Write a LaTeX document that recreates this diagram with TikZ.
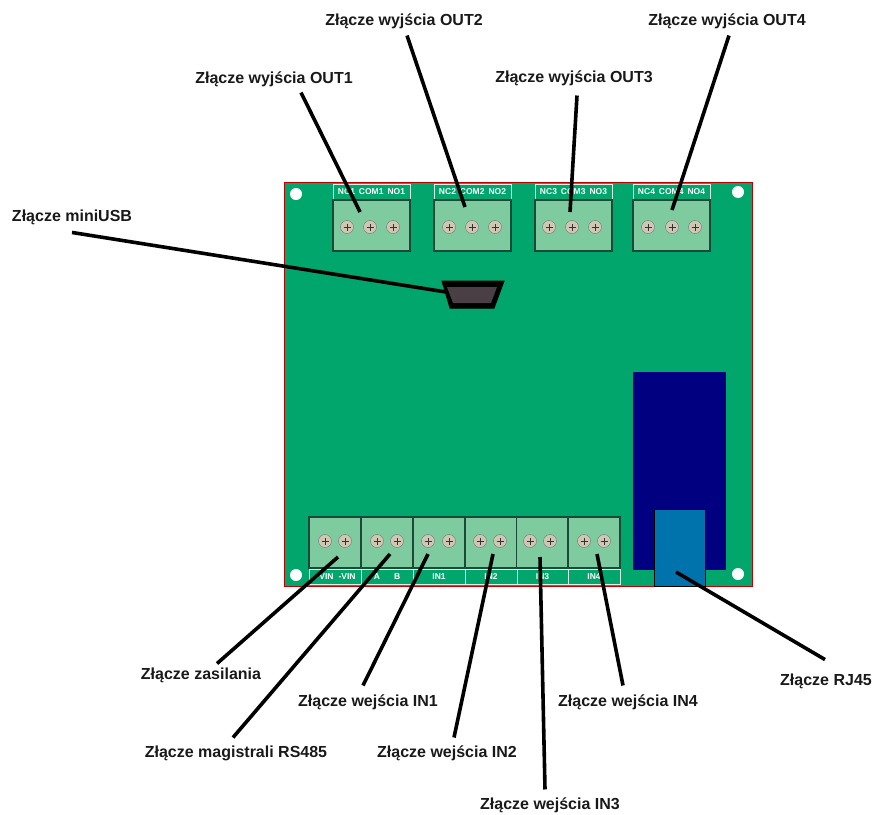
\documentclass[tikz,border=0pt]{standalone}
\usepackage{fontspec}
\setmainfont{Liberation Sans}
\usepackage{xcolor}
\definecolor{pcbgreen}{HTML}{00A66C}
\definecolor{blockgreen}{HTML}{7DCB9F}
\definecolor{blockedge}{HTML}{1C4A36}
\definecolor{screwfill}{HTML}{CFC6B4}
\definecolor{usbgrey}{HTML}{4A3F45}
\definecolor{relaynavy}{HTML}{000080}
\definecolor{jackblue}{HTML}{0072AC}

\begin{document}
\begin{tikzpicture}[
        x=1pt,y=-1pt,
        every node/.append style={outer sep=0pt}
    ]
    \tikzstyle{callout}=[font=\bfseries\fontsize{16}{18}\selectfont,text=black!90,inner sep=2pt];
    \tikzstyle{lead}=[line width=3.6pt,black];
    \tikzstyle{hole}=[shape=circle,fill=white,inner sep=0pt,minimum size=12pt];
    \tikzstyle{topblock}=[draw=blockedge,line width=1.2pt,fill=blockgreen,inner sep=0pt,minimum width=77pt,minimum height=51pt];
    \tikzstyle{lowblock}=[draw=blockedge,line width=1.2pt,fill=blockgreen,inner sep=0pt,minimum width=52pt,minimum height=51pt];
    \tikzstyle{strip}=[draw=white!85!pcbgreen,line width=0.9pt,text=white,font=\bfseries\fontsize{8.5}{9}\selectfont,inner sep=0pt,minimum height=15pt];
    \tikzstyle{screw}=[draw=black!55,shape=circle,fill=screwfill,inner sep=0pt,minimum size=13pt,
        path picture={\draw[line width=1pt,black!80]
            ([xshift=-3.5pt]path picture bounding box.center) -- ([xshift=3.5pt]path picture bounding box.center)
            ([yshift=-3.5pt]path picture bounding box.center) -- ([yshift=3.5pt]path picture bounding box.center);}];
    \useasboundingbox (0,0) rectangle (874,814);
    % board
    \node[draw=red!75!black,line width=1pt,fill=pcbgreen,inner sep=0pt,minimum width=468pt,minimum height=404pt] (board) at (518,384) {};
    \node[hole] (hole1) at (296,194) {};
    \node[hole] (hole2) at (738,192) {};
    \node[hole] (hole3) at (296,575) {};
    \node[hole] (hole4) at (738,574) {};
    % relay and RJ45
    \node[fill=relaynavy,inner sep=0pt,minimum width=93pt,minimum height=198pt] (relay) at (679.5,471) {};
    \node[draw=black,line width=1pt,fill=jackblue,inner sep=0pt,minimum width=51pt,minimum height=77pt] (jack) at (679.5,547.5) {};
    % miniUSB
    \draw[line width=1pt,fill=black] (442,281) -- (504,281) -- (494,308) -- (450,308) -- cycle;
    \fill[usbgrey] (447,287) -- (497,287) -- (491,303) -- (453,303) -- cycle;
    % out1
    \begin{scope}[shift={(333,200)}]
        \node[strip,minimum width=77pt] (stripO1) at (38.5,-8) {NC1\hspace{4pt}COM1\hspace{4pt}NO1};
        \node[topblock] (blockO1) at (38.5,25.5) {};
        \node[screw] (scrO1a) at (14,27) {};
        \node[screw] (scrO1b) at (37,27) {};
        \node[screw] (scrO1c) at (60,27) {};
    \end{scope}
    % out2
    \begin{scope}[shift={(434,200)}]
        \node[strip,minimum width=77pt] (stripO2) at (38.5,-8) {NC2\hspace{4pt}COM2\hspace{4pt}NO2};
        \node[topblock] (blockO2) at (38.5,25.5) {};
        \node[screw] (scrO2a) at (15,27) {};
        \node[screw] (scrO2b) at (38,27) {};
        \node[screw] (scrO2c) at (61,27) {};
    \end{scope}
    % out3
    \begin{scope}[shift={(535,200)}]
        \node[strip,minimum width=77pt] (stripO3) at (38.5,-8) {NC3\hspace{4pt}COM3\hspace{4pt}NO3};
        \node[topblock] (blockO3) at (38.5,25.5) {};
        \node[screw] (scrO3a) at (14,27) {};
        \node[screw] (scrO3b) at (37,27) {};
        \node[screw] (scrO3c) at (60,27) {};
    \end{scope}
    % out4
    \begin{scope}[shift={(633,200)}]
        \node[strip,minimum width=77pt] (stripO4) at (38.5,-8) {NC4\hspace{4pt}COM4\hspace{4pt}NO4};
        \node[topblock] (blockO4) at (38.5,25.5) {};
        \node[screw] (scrO4a) at (15,27) {};
        \node[screw] (scrO4b) at (39,27) {};
        \node[screw] (scrO4c) at (62,27) {};
    \end{scope}
    % power
    \begin{scope}[shift={(309,517)}]
        \node[lowblock] (blockP) at (26,25.5) {};
        \node[strip,minimum width=52pt] (stripP) at (26,60) {+VIN\hspace{5pt}-VIN};
        \node[screw] (scrPa) at (16,24) {};
        \node[screw] (scrPb) at (36,24) {};
    \end{scope}
    % rs485
    \begin{scope}[shift={(361,517)}]
        \node[lowblock] (blockR) at (26,25.5) {};
        \node[strip,minimum width=52pt] (stripR) at (26,60) {A\hspace{14pt}B};
        \node[screw] (scrRa) at (16,24) {};
        \node[screw] (scrRb) at (36,24) {};
    \end{scope}
    % in1
    \begin{scope}[shift={(413,517)}]
        \node[lowblock] (blockI1) at (26,25.5) {};
        \node[strip,minimum width=52pt] (stripI1) at (26,60) {IN1};
        \node[screw] (scrI1a) at (15,24) {};
        \node[screw] (scrI1b) at (36,24) {};
    \end{scope}
    % in2
    \begin{scope}[shift={(465,517)}]
        \node[lowblock] (blockI2) at (26,25.5) {};
        \node[strip,minimum width=52pt] (stripI2) at (26,60) {IN2};
        \node[screw] (scrI2a) at (15,24) {};
        \node[screw] (scrI2b) at (35,24) {};
    \end{scope}
    % in3
    \begin{scope}[shift={(517,517)}]
        \node[lowblock] (blockI3) at (25.5,25.5) {};
        \node[strip,minimum width=51pt] (stripI3) at (25.5,60) {IN3};
        \node[screw] (scrI3a) at (13,24) {};
        \node[screw] (scrI3b) at (33,24) {};
    \end{scope}
    % in4
    \begin{scope}[shift={(568,517)}]
        \node[lowblock] (blockI4) at (26,25.5) {};
        \node[strip,minimum width=52pt] (stripI4) at (26,60) {IN4};
        \node[screw] (scrI4a) at (16,24) {};
        \node[screw] (scrI4b) at (36,24) {};
    \end{scope}
    % captions
    \node[callout] (capO1) at (274,79) {Złącze wyjścia OUT1};
    \node[callout] (capO2) at (404,21) {Złącze wyjścia OUT2};
    \node[callout] (capO3) at (574,78) {Złącze wyjścia OUT3};
    \node[callout] (capO4) at (727,21) {Złącze wyjścia OUT4};
    \node[callout] (capU) at (72,217) {Złącze miniUSB};
    \node[callout] (capP) at (201,675) {Złącze zasilania};
    \node[callout] (capR) at (236,753) {Złącze magistrali RS485};
    \node[callout] (capI1) at (368,702) {Złącze wejścia IN1};
    \node[callout] (capI2) at (447,753) {Złącze wejścia IN2};
    \node[callout] (capI3) at (550,805) {Złącze wejścia IN3};
    \node[callout] (capI4) at (628,702) {Złącze wejścia IN4};
    \node[callout] (capJ) at (826,681) {Złącze RJ45};
    % lead ends
    \coordinate (tipO1) at (360,212);
    \coordinate (tipO2) at (465,207);
    \coordinate (tipO3) at (570,212);
    \coordinate (tipO4) at (672,210);
    \coordinate (tipU) at (446,292);
    \coordinate (tipP) at (338,557);
    \coordinate (tipR) at (390,554);
    \coordinate (tipI1) at (428,554);
    \coordinate (tipI2) at (493,554);
    \coordinate (tipI3) at (540,557);
    \coordinate (tipI4) at (597,554);
    \coordinate (tipJ) at (676,572);
    % leads
    \draw[lead] ([xshift=27pt,yshift=-4pt]capO1.south) -- (tipO1);
    \draw[lead] ([xshift=3pt,yshift=-5pt]capO2.south) -- (tipO2);
    \draw[lead] ([xshift=3pt,yshift=-8pt]capO3.south) -- (tipO3);
    \draw[lead] ([xshift=2pt,yshift=-5pt]capO4.south) -- (tipO4);
    \draw[lead] ([yshift=-6pt]capU.south) -- (tipU);
    \draw[lead] ([xshift=16pt,yshift=2pt]capP.north) -- (tipP);
    \draw[lead] ([xshift=-3pt,yshift=6pt]capR.north) -- (tipR);
    \draw[lead] ([xshift=-5pt,yshift=7pt]capI1.north) -- (tipI1);
    \draw[lead] ([xshift=7pt,yshift=6pt]capI2.north) -- (tipI2);
    \draw[lead] ([xshift=-5pt,yshift=6pt]capI3.north) -- (tipI3);
    \draw[lead] ([xshift=-5pt,yshift=7pt]capI4.north) -- (tipI4);
    \draw[lead] ([xshift=-1pt,yshift=12pt]capJ.north) -- (tipJ);
\end{tikzpicture}
\end{document}
